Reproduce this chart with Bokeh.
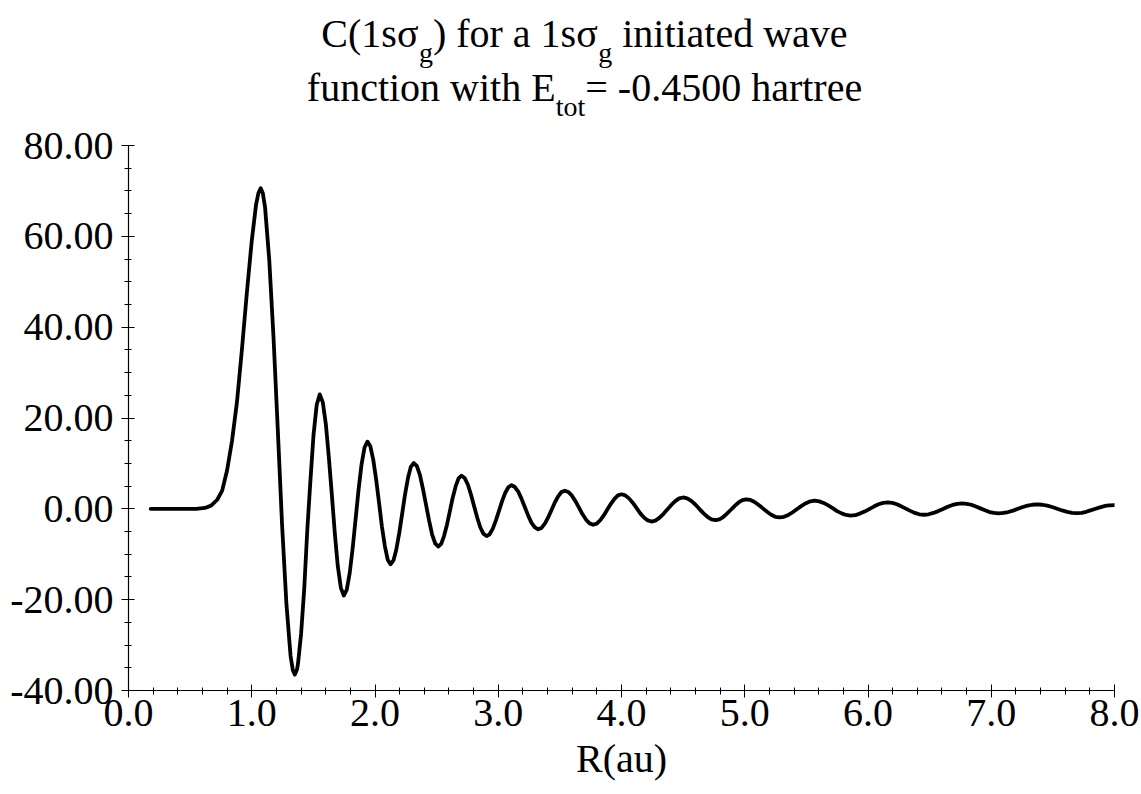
from bokeh.plotting import figure
from bokeh.layouts import column
from bokeh.models import Range1d, FixedTicker, NumeralTickFormatter, Label
from bokeh.core.properties import value
from bokeh.embed import file_html
from bokeh.resources import INLINE

# ---- data ----
r_au = [0.18, 0.40, 0.55, 0.62, 0.67, 0.72, 0.76, 0.80, 0.84, 0.88, 0.92, 0.96, 1.00, 1.035, 1.055,
        1.073, 1.09, 1.108, 1.142, 1.177, 1.212, 1.246, 1.281, 1.315, 1.333, 1.35, 1.367,
        1.375, 1.4005, 1.426, 1.451, 1.476, 1.501, 1.527, 1.552,
        1.576, 1.601, 1.625, 1.650, 1.674, 1.698, 1.723, 1.747,
        1.771, 1.795, 1.819, 1.843, 1.867, 1.891, 1.915, 1.939,
        1.962, 1.986, 2.009, 2.033, 2.056, 2.080, 2.103, 2.126,
        2.150, 2.173, 2.197, 2.2205, 2.244, 2.268, 2.291, 2.315,
        2.340, 2.365, 2.389, 2.414, 2.439, 2.463, 2.488, 2.513,
        2.537, 2.560, 2.584, 2.6075, 2.631, 2.655, 2.678, 2.702,
        2.727, 2.753, 2.778, 2.8035, 2.829, 2.854, 2.880, 2.905,
        2.930, 2.956, 2.981, 3.0065, 3.032, 3.057, 3.083, 3.108,
        3.135, 3.162, 3.189, 3.216, 3.243, 3.270, 3.297, 3.324,
        3.351, 3.378, 3.405, 3.432, 3.459, 3.486, 3.513, 3.54,
        3.569, 3.598, 3.626, 3.655, 3.684, 3.713, 3.741, 3.77,
        3.799, 3.828, 3.856, 3.885, 3.914, 3.943, 3.971, 4.0,
        4.031, 4.061, 4.091, 4.1215, 4.152, 4.182, 4.213, 4.243,
        4.275, 4.307, 4.339, 4.3715, 4.404, 4.436, 4.468, 4.5,
        4.533, 4.566, 4.599, 4.6315, 4.664, 4.697, 4.730, 4.763,
        4.794, 4.825, 4.856, 4.8875, 4.919, 4.950, 4.981, 5.012,
        5.046, 5.08, 5.113, 5.147, 5.181, 5.215, 5.248, 5.282,
        5.318, 5.354, 5.389, 5.425, 5.461, 5.497, 5.532, 5.568,
        5.604, 5.64, 5.677, 5.713, 5.749, 5.786, 5.822, 5.858,
        5.896, 5.934, 5.972, 6.01, 6.047, 6.085, 6.123, 6.161,
        6.197, 6.234, 6.270, 6.307, 6.343, 6.38, 6.416, 6.453,
        6.492, 6.531, 6.570, 6.6085, 6.647, 6.686, 6.725, 6.764,
        6.801, 6.838, 6.875, 6.912, 6.949, 6.986, 7.023, 7.06,
        7.099, 7.138, 7.177, 7.2165, 7.256, 7.295, 7.334, 7.373,
        7.413, 7.454, 7.494, 7.535, 7.575, 7.616, 7.656, 7.697,
        7.735, 7.77, 7.805, 7.84, 7.875, 7.91, 7.935, 7.96, 8.0]
c_val = [0.0, 0.0, 0.0, 0.2, 0.7, 2.0, 4.0, 8.5, 15.0, 23.5, 35.0, 47.5, 59.0, 67.0, 69.6,
         70.6, 69.5, 66.4, 54.8, 37.5, 17.0, -3.5, -20.8, -32.4, -35.5, -36.5, -35.4,
         -34.15, -27.5, -17.5, -4.5, 6.2, 16.2, 22.9, 25.2,
         23.5, 18.7, 11.5, 3.05, -5.4, -12.6, -17.4, -19.1,
         -17.8, -14.1, -8.6, -2.15, 4.3, 9.8, 13.5, 14.8,
         13.8, 10.8, 6.5, 1.3, -3.9, -8.2, -11.2, -12.2,
         -11.35, -8.95, -5.3, -1.05, 3.2, 6.85, 9.25, 10.1,
         9.4, 7.4, 4.4, 0.9, -2.6, -5.6, -7.6, -8.3,
         -7.7, -6.0, -3.5, -0.5, 2.5, 5.0, 6.7, 7.3,
         6.8, 5.35, 3.2, 0.65, -1.9, -4.05, -5.5, -6.0,
         -5.6, -4.35, -2.55, -0.4, 1.75, 3.55, 4.8, 5.2,
         4.8, 3.8, 2.2, 0.35, -1.5, -3.1, -4.1, -4.5,
         -4.2, -3.25, -1.9, -0.25, 1.4, 2.75, 3.7, 4.0,
         3.7, 2.9, 1.7, 0.25, -1.2, -2.4, -3.2, -3.5,
         -3.25, -2.5, -1.45, -0.15, 1.1, 2.2, 2.95, 3.2,
         2.95, 2.3, 1.35, 0.2, -1.0, -1.9, -2.55, -2.8,
         -2.6, -2.0, -1.15, -0.15, 0.85, 1.7, 2.3, 2.5,
         2.3, 1.75, 0.95, 0.0, -0.95, -1.75, -2.3, -2.5,
         -2.3, -1.8, -1.05, -0.2, 0.65, 1.4, 1.9, 2.1,
         1.95, 1.5, 0.85, 0.1, -0.65, -1.3, -1.75, -1.9,
         -1.75, -1.35, -0.75, -0.05, 0.65, 1.25, 1.65, 1.8,
         1.65, 1.3, 0.75, 0.15, -0.5, -1.0, -1.35, -1.5,
         -1.4, -1.05, -0.6, -0.05, 0.5, 1.0, 1.3, 1.4,
         1.3, 1.0, 0.55, 0.05, -0.45, -0.9, -1.2, -1.3,
         -1.2, -0.9, -0.5, -0.05, 0.45, 0.85, 1.1, 1.2,
         1.1, 0.9, 0.5, 0.1, -0.3, -0.7, -0.9, -1.0,
         -0.9, -0.7, -0.4, 0.0, 0.4, 0.7, 0.9, 1.0,
         0.9, 0.7, 0.4, 0.03, -0.35, -0.66, -0.87, -0.95,
         -0.88, -0.65, -0.35, -0.05, 0.27, 0.55, 0.7, 0.78, 0.82]

x_ticks = [0, 1, 2, 3, 4, 5, 6, 7, 8]
y_ticks = [-40, -20, 0, 20, 40, 60, 80]
title_line1 = [("C(1sσ", False), ("g", True), (") for a 1sσ", False), ("g", True), (" initiated wave", False)]
title_line2 = [("function with E", False), ("tot", True), ("= -0.4500 hartree", False)]
x_label = "R(au)"

FONT = "Liberation Serif"
W, H = 1141, 794
TH = 122                      # height of the title strip
MH = H - TH                   # height of the plot figure
FL, FR = 128, 1114            # frame left/right (page pixels)
FT, FB = 145 - TH, 690 - TH   # frame top/bottom within the plot figure


def make_label(**kw):
    try:
        return Label(text_font=value(FONT), **kw)
    except Exception:
        return Label(text_font=FONT, **kw)


# ---------- title strip (same left/right borders as the plot, so x data == page px) ----------
t = figure(width=W, height=TH, output_backend="svg", toolbar_location=None,
           x_range=Range1d(FL, FR), y_range=Range1d(TH, 0),
           x_axis_location=None, y_axis_location=None,
           min_border_left=FL, min_border_right=W - FR, min_border_top=0, min_border_bottom=0)
t.title.visible = False
t.outline_line_color = None
t.xgrid.visible = False
t.ygrid.visible = False

# Times-metric widths (em) for placing title pieces side by side
TW = {' ': .25, '(': .333, ')': .333, '-': .333, '.': .25, '=': .564, 'C': .667, 'E': .611,
      'a': .444, 'c': .444, 'd': .5, 'e': .444, 'f': .333, 'g': .5, 'h': .5, 'i': .278,
      'n': .5, 'o': .5, 'r': .333, 's': .389, 't': .278, 'u': .5, 'v': .5, 'w': .722, 'σ': .55}


def tw(s, size):
    return sum(TW.get(ch, .5) for ch in s) * size


MAIN, SUB, SUBDROP = 40, 28, 15
CENTER_X = 584
MID = 0.35   # distance (em) from the baseline up to the middle of the text box


def place_line(pieces, base_y):
    total = sum(tw(s, SUB if sub else MAIN) for s, sub in pieces)
    x = CENTER_X - total / 2
    for s, sub in pieces:
        size = SUB if sub else MAIN
        lead = len(s) - len(s.lstrip(" "))
        x += tw(" " * lead, size)
        body = s.lstrip(" ")
        base = base_y + (SUBDROP if sub else 0)
        t.add_layout(make_label(x=x, y=base - MID * size,
                                text=body, text_font_size=f"{size}px",
                                text_baseline="middle", text_align="left", text_color="black"))
        x += tw(body, size)


place_line(title_line1, 47)
place_line(title_line2, 101)

# ---------- main plot ----------
p = figure(width=W, height=MH, output_backend="svg", toolbar_location=None,
           x_range=Range1d(0, 8), y_range=Range1d(-40, 80),
           min_border_left=FL, min_border_right=W - FR,
           min_border_top=FT, min_border_bottom=MH - FB)
p.title.visible = False
p.outline_line_color = None
p.xgrid.visible = False
p.ygrid.visible = False

p.line(r_au, c_val, line_color="black", line_width=3.8, line_join="round", line_cap="round")

for ax in (p.xaxis[0], p.yaxis[0]):
    ax.axis_line_color = "black"
    ax.axis_line_width = 1.2
    ax.major_tick_line_color = "black"
    ax.minor_tick_line_color = "black"
    ax.major_tick_in = 6
    ax.major_tick_out = 7
    ax.minor_tick_in = 3
    ax.minor_tick_out = 4
    ax.major_label_text_font = FONT
    ax.major_label_text_font_size = "40px"
    ax.major_label_text_color = "black"

minor_x = [i * 0.2 for i in range(41) if i % 5 != 0]
minor_y = [v for v in range(-40, 81, 5) if v % 20 != 0]
p.xaxis[0].ticker = FixedTicker(ticks=x_ticks, minor_ticks=minor_x)
p.yaxis[0].ticker = FixedTicker(ticks=y_ticks, minor_ticks=minor_y)
p.xaxis[0].formatter = NumeralTickFormatter(format="0.0")
p.yaxis[0].formatter = NumeralTickFormatter(format="0.00")
p.xaxis[0].major_label_standoff = 2
p.yaxis[0].major_label_standoff = 8

xa = p.xaxis[0]
xa.axis_label = x_label
try:
    xa.axis_label_text_font = value(FONT)
except Exception:
    xa.axis_label_text_font = FONT
xa.axis_label_text_font_size = "40px"
xa.axis_label_text_font_style = "normal"
xa.axis_label_text_color = "black"
xa.axis_label_standoff = 7

layout = column(t, p, spacing=0)
open("out.html", "w").write(file_html(layout, INLINE))
